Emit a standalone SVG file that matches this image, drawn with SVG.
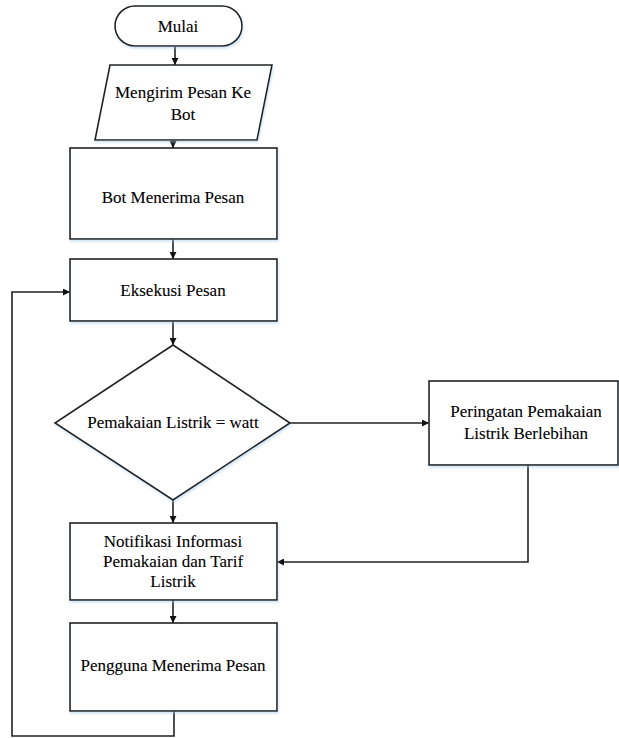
<svg xmlns="http://www.w3.org/2000/svg" width="619" height="738" viewBox="0 0 619 738">
  <defs>
    <marker id="arrow" viewBox="0 0 10 10" refX="10" refY="5" markerWidth="7" markerHeight="7" markerUnits="userSpaceOnUse" orient="auto">
      <path d="M0,0 L10,5 L0,10 Z" fill="#111"/>
    </marker>
    <filter id="shadow" x="-5%" y="-5%" width="115%" height="115%">
      <feDropShadow dx="1" dy="2" stdDeviation="1" flood-color="#9ec3e6" flood-opacity="0.45"/>
    </filter>
  </defs>
  <style>
    .shape { fill: #fff; stroke: #222; stroke-width: 1.6; filter: url(#shadow); }
    .label { font-family: "Liberation Serif", "Times New Roman", serif; font-size: 17px; fill: #000; stroke: #000; stroke-width: 0.1; text-anchor: middle; dominant-baseline: central; }
    .wire { fill: none; stroke: #222; stroke-width: 1.6; }
  </style>
  <rect width="619" height="738" fill="#fff"/>

  <!-- flow lines -->
  <g id="connectors">
    <line class="wire" x1="175" y1="46" x2="175" y2="65" marker-end="url(#arrow)"/>
    <line class="wire" x1="173" y1="140" x2="173" y2="148" marker-end="url(#arrow)"/>
    <line class="wire" x1="173" y1="239" x2="173" y2="259" marker-end="url(#arrow)"/>
    <line class="wire" x1="173" y1="321" x2="173" y2="345" marker-end="url(#arrow)"/>
    <line class="wire" x1="290" y1="423" x2="429" y2="423" marker-end="url(#arrow)"/>
    <line class="wire" x1="173" y1="500" x2="173" y2="523" marker-end="url(#arrow)"/>
    <polyline class="wire" points="528,465 528,562 277,562" marker-end="url(#arrow)"/>
    <line class="wire" x1="173" y1="600" x2="173" y2="623" marker-end="url(#arrow)"/>
    <polyline class="wire" points="174,711 174,736 12,736 12,292 70,292" marker-end="url(#arrow)"/>
  </g>

  <g id="mulai">
    <rect class="shape" x="115" y="6" width="127" height="40" rx="20" ry="20"/>
    <text class="label" x="178" y="26">Mulai</text>
  </g>

  <g id="kirim-pesan">
    <polygon class="shape" points="110,65 272,65 257,140 95,140"/>
    <text class="label" x="183" y="92">Mengirim Pesan Ke</text>
    <text class="label" x="183" y="114">Bot</text>
  </g>

  <g id="bot-terima">
    <rect class="shape" x="70" y="148" width="207" height="91"/>
    <text class="label" x="173" y="197">Bot Menerima Pesan</text>
  </g>

  <g id="eksekusi">
    <rect class="shape" x="70" y="259" width="207" height="62"/>
    <text class="label" x="173" y="290">Eksekusi Pesan</text>
  </g>

  <g id="cek-pemakaian">
    <polygon class="shape" points="173,345 290,423 173,500 55,423"/>
    <text class="label" x="173" y="422">Pemakaian Listrik = watt</text>
  </g>

  <g id="peringatan">
    <rect class="shape" x="429" y="381" width="189" height="84"/>
    <text class="label" x="526" y="411">Peringatan Pemakaian</text>
    <text class="label" x="526" y="433">Listrik Berlebihan</text>
  </g>

  <g id="notifikasi">
    <rect class="shape" x="70" y="523" width="207" height="77"/>
    <text class="label" x="173" y="541">Notifikasi Informasi</text>
    <text class="label" x="173" y="561">Pemakaian dan Tarif</text>
    <text class="label" x="173" y="581">Listrik</text>
  </g>

  <g id="pengguna-terima">
    <rect class="shape" x="70" y="623" width="207" height="88"/>
    <text class="label" x="173" y="665">Pengguna Menerima Pesan</text>
  </g>
</svg>
